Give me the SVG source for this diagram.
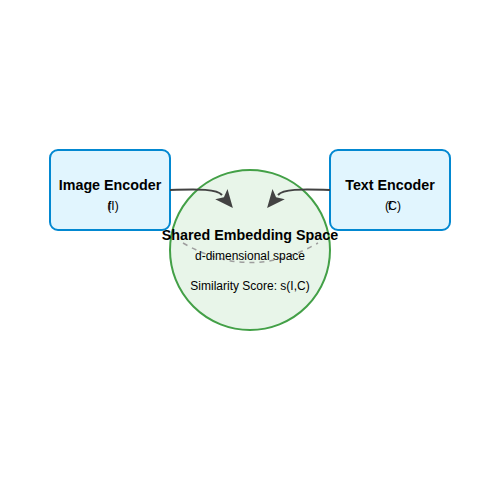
<svg xmlns="http://www.w3.org/2000/svg" width="500" height="500" viewBox="0 0 500 500">
<style>
.box{fill:#e1f5fe;stroke:#0288d1;stroke-width:2}
.t{font-family:"Liberation Sans",Arial,sans-serif;fill:#000;text-anchor:middle}
.b{font-weight:bold;font-size:14.3px}
.s{font-size:12px}
.conn{fill:none;stroke:#424242;stroke-width:2}
</style>
<defs>
<marker id="ah" viewBox="0 0 18 16" refX="1" refY="8" markerWidth="18" markerHeight="16" markerUnits="userSpaceOnUse" orient="auto">
<path d="M0,0 L18,8 L0,16 L4,8 z" fill="#424242"/>
</marker>
</defs>
<rect width="500" height="500" fill="#fff"/>
<g id="space">
<circle cx="250" cy="250" r="80" fill="#e8f5e9" stroke="#43a047" stroke-width="2"/>
<path d="M183,243 Q250,282 318,243" fill="none" stroke="#9e9e9e" stroke-width="1.5" stroke-dasharray="5,5"/>
<text class="t b" x="250" y="240">Shared Embedding Space</text>
<text class="t s" x="250" y="260" fill="#333">d-dimensional space</text>
<text class="t s" x="250" y="290">Similarity Score: s(I,C)</text>
</g>
<g id="image-encoder">
<rect class="box" x="50" y="150" width="120" height="80" rx="8"/>
<text class="t b" x="110" y="190">Image Encoder</text>
<text class="t s" x="113" y="210" dx="0 -4 0 0">f(I)</text>
</g>
<g id="text-encoder">
<rect class="box" x="330" y="150" width="120" height="80" rx="8"/>
<text class="t b" x="390" y="190">Text Encoder</text>
<text class="t s" x="393" y="210" dx="0 -1 -3 0">(fC)</text>
</g>
<g id="connectors">
<path class="conn" d="M170,190 C200,189 217,189 222,195" marker-end="url(#ah)"/>
<path class="conn" d="M330,190 C300,189 283,189 278,195" marker-end="url(#ah)"/>
</g>
</svg>
